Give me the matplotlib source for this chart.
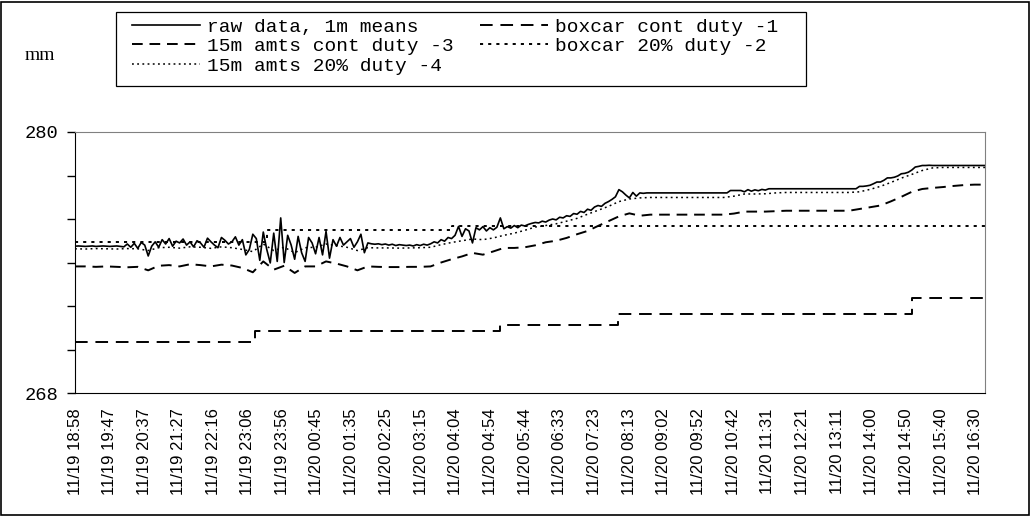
import numpy as np
import matplotlib
matplotlib.use('Agg')
import matplotlib.pyplot as plt
from matplotlib.patches import Rectangle

# ---------------- data (minutes after 11/19 18:58) ----------------
raw_step = 5
raw_mm = [
    274.75, 274.76, 274.75, 274.74, 274.75, 274.76, 274.74, 274.75, 274.76, 274.75, 274.74, 274.75,
    274.76, 274.74, 274.72, 274.85, 274.70, 274.88, 274.65, 274.92, 274.80, 274.30, 274.75, 274.95,
    274.70, 275.05, 274.85, 275.10, 274.75, 274.98, 274.90, 275.08, 274.80, 274.95, 274.72, 275.00,
    274.90, 274.70, 275.12, 274.95, 274.80, 274.68, 275.15, 275.02, 274.85, 274.95, 275.18, 274.80,
    275.05, 274.35, 274.60, 275.30, 275.10, 274.10, 275.40, 274.60, 273.98, 275.35, 274.05, 276.05,
    274.00, 275.25, 274.80, 274.15, 275.20, 274.45, 274.05, 275.15, 274.90, 274.40, 275.15, 274.35,
    275.43, 274.20, 275.05, 274.75, 275.15, 274.80, 274.95, 275.10, 274.70, 274.95, 275.30, 274.45,
    274.90, 274.86, 274.84, 274.86, 274.82, 274.85, 274.80, 274.84, 274.78, 274.82, 274.80, 274.78,
    274.80, 274.76, 274.82, 274.78, 274.84, 274.80, 274.86, 274.95, 274.90, 275.05, 274.98, 275.15,
    275.10, 275.25, 275.66, 275.20, 275.55, 275.45, 274.90, 275.60, 275.50, 275.65, 275.45, 275.60,
    275.50, 275.62, 276.05, 275.55, 275.65, 275.58, 275.70, 275.60, 275.72, 275.68, 275.75, 275.80,
    275.84, 275.82, 275.90, 275.86, 275.95, 276.00, 275.96, 276.08, 276.05, 276.15, 276.12, 276.25,
    276.22, 276.35, 276.30, 276.45, 276.40, 276.55, 276.62, 276.58, 276.72, 276.80, 276.90, 277.02,
    277.35, 277.25, 277.10, 276.97, 277.22, 277.05, 277.20, 277.18, 277.20, 277.20, 277.20, 277.20,
    277.20, 277.20, 277.20, 277.20, 277.20, 277.20, 277.20, 277.20, 277.20, 277.20, 277.20, 277.20,
    277.20, 277.20, 277.20, 277.20, 277.20, 277.20, 277.20, 277.20, 277.31, 277.31, 277.31, 277.31,
    277.25, 277.35, 277.28, 277.34, 277.30, 277.36, 277.33, 277.39, 277.39, 277.39, 277.39, 277.39,
    277.39, 277.39, 277.39, 277.39, 277.39, 277.39, 277.39, 277.39, 277.39, 277.39, 277.39, 277.39,
    277.39, 277.39, 277.39, 277.39, 277.39, 277.39, 277.39, 277.39, 277.39, 277.50, 277.50, 277.52,
    277.55, 277.62, 277.70, 277.70, 277.78, 277.89, 277.89, 277.92, 277.98, 278.08, 278.10, 278.15,
    278.25, 278.39, 278.42, 278.46, 278.46, 278.47, 278.46, 278.46, 278.46, 278.46, 278.46, 278.46,
    278.46, 278.46, 278.46, 278.46, 278.46, 278.46, 278.46, 278.46, 278.46, 278.46,
]

amts_step = 15
amts_cont = [
    273.82, 273.82, 273.80, 273.82, 273.80, 273.78, 273.80, 273.64,
    273.85, 273.88, 273.82, 273.92, 273.88, 273.82, 273.90, 273.86,
    273.75, 273.55, 274.05, 273.67, 273.85, 273.52, 273.82, 273.82,
    274.05, 273.95, 273.82, 273.64, 273.82, 273.80, 273.79, 273.79,
    273.80, 273.80, 273.82, 274.00, 274.15, 274.28, 274.44, 274.36,
    274.51, 274.67, 274.67, 274.70, 274.79, 274.93, 275.00, 275.13,
    275.30, 275.45, 275.68, 275.90, 276.12, 276.26, 276.15, 276.20,
    276.20, 276.20, 276.20, 276.20, 276.20, 276.20, 276.20, 276.25,
    276.34, 276.34, 276.34, 276.36, 276.38, 276.38, 276.38, 276.38,
    276.38, 276.38, 276.38, 276.46, 276.54, 276.62, 276.81, 277.02,
    277.25, 277.38, 277.43, 277.47, 277.52, 277.56, 277.58, 277.58,
]
amts_20 = [
    274.63, 274.62, 274.64, 274.63, 274.62, 274.64, 274.63, 274.55,
    274.68, 274.70, 274.66, 274.72, 274.70, 274.65, 274.72, 274.68,
    274.60, 274.50, 274.85, 274.55, 274.70, 274.45, 274.68, 274.70,
    274.85, 274.78, 274.70, 274.55, 274.68, 274.67, 274.67, 274.66,
    274.67, 274.68, 274.70, 274.82, 274.92, 275.00, 275.08, 275.05,
    275.13, 275.25, 275.35, 275.48, 275.63, 275.70, 275.78, 275.90,
    276.03, 276.22, 276.40, 276.58, 276.80, 276.92, 276.97, 276.99,
    276.99, 276.99, 276.99, 276.99, 276.99, 276.99, 276.99, 277.05,
    277.15, 277.15, 277.16, 277.20, 277.22, 277.22, 277.22, 277.22,
    277.22, 277.22, 277.22, 277.25, 277.36, 277.50, 277.68, 277.88,
    278.05, 278.23, 278.35, 278.37, 278.37, 278.37, 278.37, 278.37,
]

box_cont_t = [0, 258, 610, 778, 1200, 1305]
box_cont = [270.36, 270.83, 271.11, 271.65, 272.38, 272.38]
box_20_t = [0, 276, 540, 1305]
box_20 = [274.96, 275.50, 275.69, 275.69]

tick_labels = ["11/19 18:58", "11/19 19:47", "11/19 20:37", "11/19 21:27", "11/19 22:16",
               "11/19 23:06", "11/19 23:56", "11/20 00:45", "11/20 01:35", "11/20 02:25",
               "11/20 03:15", "11/20 04:04", "11/20 04:54", "11/20 05:44", "11/20 06:33",
               "11/20 07:23", "11/20 08:13", "11/20 09:02", "11/20 09:52", "11/20 10:42",
               "11/20 11:31", "11/20 12:21", "11/20 13:11", "11/20 14:00", "11/20 14:50",
               "11/20 15:40", "11/20 16:30"]

# ---------------- positions ----------------
raw_t = np.arange(len(raw_mm)) * raw_step
amts_t = np.arange(len(amts_cont)) * amts_step

def to_min(lbl):
    d, hm = lbl.split()
    h, m = hm.split(":")
    day = int(d.split("/")[1]) - 19
    return day * 1440 + int(h) * 60 + int(m) - (18 * 60 + 58)

tick_pos = [to_min(l) for l in tick_labels]

# ---------------- plot ----------------
W, H = 1031, 516
fig = plt.figure(figsize=(W / 100, H / 100), dpi=100)
ax = fig.add_axes([75 / W, 1 - 393 / H, 910 / W, 261 / H])

l_raw, = ax.plot(raw_t, raw_mm, color="k", lw=1.2)
l_bc, = ax.plot(box_cont_t, box_cont, color="k", lw=1.4, drawstyle="steps-post",
                dashes=(6.5, 4))
l_ac, = ax.plot(amts_t, amts_cont, color="k", lw=1.4, dashes=(5.5, 3.5))
l_b20, = ax.plot(box_20_t, box_20, color="k", lw=1.4, drawstyle="steps-post",
                 dashes=(1.6, 2.6))
l_a20, = ax.plot(amts_t, amts_20, color="k", lw=1.1, dashes=(1.2, 2.2))

ax.set_xlim(0, 1305)
ax.set_ylim(268, 280)
ax.set_yticks(np.arange(268, 281, 2))
ax.set_yticklabels(["268", "", "", "", "", "", "280"], family="Liberation Mono", fontsize=13.5)
ax.set_xticks(tick_pos)
ax.set_xticklabels(tick_labels, rotation=90, family="Liberation Sans", fontsize=12,
                   va="top", ha="center")
ax.tick_params(axis="x", length=0, pad=11)
ax.tick_params(axis="y", direction="out", length=6, width=1, pad=6)

for s in ["top", "right"]:
    ax.spines[s].set_color("#808080")
for s in ["left", "bottom"]:
    ax.spines[s].set_color("k")

fig.text(40 / W, 1 - 55 / H, "mm", family="Liberation Serif", fontsize=14,
         ha="center", va="center")

# legend box drawn as its own rectangle, entries placed inside it
fig.patches.append(Rectangle((116 / W, 1 - 86 / H), 690 / W, 74 / H,
                             transform=fig.transFigure, fill=False,
                             edgecolor="k", lw=0.9))
leg = fig.legend([l_raw, l_ac, l_a20, l_bc, l_b20],
                 ["raw data, 1m means", "15m amts cont duty -3", "15m amts 20% duty -4",
                  "boxcar cont duty -1", "boxcar 20% duty -2"],
                 ncol=2, loc="upper left", bbox_to_anchor=(132 / W, 1 - 18 / H),
                 prop={"family": "Liberation Mono", "size": 14},
                 frameon=False, handlelength=3.5, handletextpad=0.36,
                 columnspacing=1.35, labelspacing=0.1, borderpad=0, borderaxespad=0)

fig.patches.append(Rectangle((1 / W, 1 / H), (W - 3) / W, (H - 3) / H,
                             transform=fig.transFigure, fill=False,
                             edgecolor="k", lw=1.2))

plt.savefig("out.png", dpi=100)
plt.close("all")
